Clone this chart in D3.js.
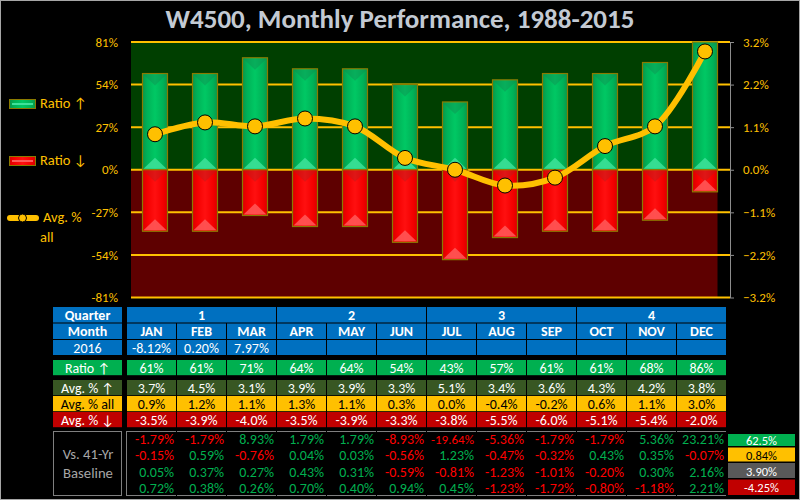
<!DOCTYPE html>
<html>
<head>
<meta charset="utf-8">
<script src="https://d3js.org/d3.v7.min.js"></script>
<style>
  body { margin: 0; background: #000; }
  svg text { font-family: Carlito, Calibri, Lato, sans-serif; }
</style>
</head>
<body>
<script>
// ---- data ----
var months = ["JAN", "FEB", "MAR", "APR", "MAY", "JUN", "JUL", "AUG", "SEP", "OCT", "NOV", "DEC"];
var quarters = ["1", "2", "3", "4"];
var ratioUp = [61, 61, 71, 64, 64, 54, 43, 57, 61, 61, 68, 86];
var ratioDown = [-39, -39, -29, -36, -36, -46, -57, -43, -39, -39, -32, -14];
var avgAll = [0.9, 1.2, 1.1, 1.3, 1.1, 0.3, 0.0, -0.4, -0.2, 0.6, 1.1, 3.0];
var avgUp = [3.7, 4.5, 3.1, 3.9, 3.9, 3.3, 5.1, 3.4, 3.6, 4.3, 4.2, 3.8];
var avgDown = [-3.5, -3.9, -4.0, -3.5, -3.9, -3.3, -3.8, -5.5, -6.0, -5.1, -5.4, -2.0];
var ytd2016 = [-8.12, 0.20, 7.97, null, null, null, null, null, null, null, null, null];
var base1 = [-1.79, -1.79, 8.93, 1.79, 1.79, -8.93, -19.64, -5.36, -1.79, -1.79, 5.36, 23.21];
var base2 = [-0.15, 0.59, -0.76, 0.04, 0.03, -0.56, 1.23, -0.47, -0.32, 0.43, 0.35, -0.07];
var base3 = [0.05, 0.37, 0.27, 0.43, 0.31, -0.59, -0.81, -1.23, -1.01, -0.20, 0.30, 2.16];
var base4 = [0.72, 0.38, 0.26, 0.70, 0.40, 0.94, 0.45, -1.23, -1.72, -0.80, -1.18, 2.21];
var summary = ["62.5%", "0.84%", "3.90%", "-4.25%"];
var leftTicks = [-81, -54, -27, 0, 27, 54, 81];
var rightTicks = [-3.24, -2.16, -1.08, 0, 1.08, 2.16, 3.24];

var GOLD = "#FFC000", BLUE = "#0070C0", GREEN = "#00B050", OLIVE = "#385723", RED = "#C00000";
var FS = 14;

var svg = d3.select("body").append("svg")
    .attr("width", 800).attr("height", 500)
    .style("display", "block").style("background", "#000");

svg.append("rect").attr("x", 0.5).attr("y", 0.5).attr("width", 799).attr("height", 499)
    .attr("fill", "none").attr("stroke", "#a6a6a6");

// gradients for the bevelled bars
var defs = svg.append("defs");
function hGrad(id, stops) {
  var g = defs.append("linearGradient").attr("id", id).attr("x1", 0).attr("x2", 1).attr("y1", 0).attr("y2", 0);
  stops.forEach(function (s) { g.append("stop").attr("offset", s[0]).attr("stop-color", s[1]); });
}
hGrad("gUp", [[0, "#0b9548"], [0.18, "#00b257"], [0.5, "#00c864"], [0.82, "#00b257"], [1, "#0b9548"]]);
hGrad("gDn", [[0, "#d80000"], [0.18, "#f40000"], [0.5, "#ff1010"], [0.82, "#f40000"], [1, "#d80000"]]);

// ---- scales ----
var x = d3.scaleBand().domain(months).range([130, 730]).paddingInner(0.5).paddingOuter(0.25);
var yL = d3.scaleLinear().domain([-81, 81]).range([297.5, 42]).clamp(true);
var yR = d3.scaleLinear().domain([-3.24, 3.24]).range([297.5, 42]);
var bw = x.bandwidth();
var bgRight = x(months[11]) + bw;

// plot background halves
svg.append("rect").attr("x", 131).attr("y", yL(81)).attr("width", bgRight - 131)
    .attr("height", yL(0) - yL(81)).attr("fill", "#003f00");
svg.append("rect").attr("x", 131).attr("y", yL(0)).attr("width", bgRight - 131)
    .attr("height", yL(-81) - yL(0)).attr("fill", "#5e0000");

// gridlines
svg.selectAll("line.grid").data(leftTicks).enter().append("line")
    .attr("x1", 131).attr("x2", 730)
    .attr("y1", function (d) { return yL(d); }).attr("y2", function (d) { return yL(d); })
    .attr("stroke", GOLD).attr("stroke-width", 2);

// axes
var axL = svg.append("g").attr("transform", "translate(131,0)")
    .call(d3.axisLeft(yL).tickValues(leftTicks).tickSize(0).tickPadding(13)
      .tickFormat(function (d) { return d + "%"; }));
axL.select(".domain").remove();
axL.selectAll("text").attr("fill", GOLD).style("font-size", "13px");

var axR = svg.append("g").attr("transform", "translate(730,0)")
    .call(d3.axisRight(yR).tickValues(rightTicks).tickSize(4).tickSizeOuter(0).tickPadding(9)
      .tickFormat(function (d) { return d3.format(".1f")(d) + "%"; }));
axR.select(".domain").attr("stroke", "#8c8c8c");
axR.selectAll("line").attr("stroke", "#8c8c8c");
axR.selectAll("text").attr("fill", GOLD).style("font-size", "13px");

// bars
function drawBars(vals, cls, grad, topCol, botCol) {
  var g = svg.selectAll("g." + cls).data(vals).enter().append("g").attr("class", cls);
  g.append("rect")
      .attr("x", function (d, i) { return x(months[i]); })
      .attr("y", function (d) { return Math.min(yL(d), yL(0)); })
      .attr("width", bw)
      .attr("height", function (d) { return Math.abs(yL(d) - yL(0)); })
      .attr("fill", "url(#" + grad + ")")
      .attr("stroke", "#8a7a00").attr("stroke-width", 1.2);
  // dark bevel at the top
  g.append("path").attr("fill", topCol).attr("opacity", 0.4)
      .attr("d", function (d, i) {
        var x0 = x(months[i]) + 1, x1 = x0 + bw - 2, t = Math.min(yL(d), yL(0)) + 1;
        return "M" + x0 + "," + t + "L" + x1 + "," + t + "L" + (x0 + bw / 2 - 1) + "," + (t + 11) + "Z";
      });
  // light bevel at the bottom
  g.append("path").attr("fill", botCol).attr("opacity", 0.85)
      .attr("d", function (d, i) {
        var x0 = x(months[i]) + 1, x1 = x0 + bw - 2, b = Math.max(yL(d), yL(0)) - 1;
        return "M" + x0 + "," + b + "L" + x1 + "," + b + "L" + (x0 + bw / 2 - 1) + "," + (b - 11) + "Z";
      });
}
drawBars(ratioUp, "up", "gUp", "#128a50", "#3ee29a");
drawBars(ratioDown, "dn", "gDn", "#b02020", "#ff5a5a");

// avg % all line on the secondary axis
var line = d3.line()
    .x(function (d, i) { return x(months[i]) + bw / 2; })
    .y(function (d) { return yR(d); })
    .curve(d3.curveCatmullRom.alpha(0.5));
svg.append("path").datum(avgAll).attr("d", line)
    .attr("fill", "none").attr("stroke", GOLD).attr("stroke-width", 6);
svg.selectAll("circle.pt").data(avgAll).enter().append("circle")
    .attr("cx", function (d, i) { return x(months[i]) + bw / 2; })
    .attr("cy", function (d) { return yR(d); })
    .attr("r", 7.5).attr("fill", GOLD).attr("stroke", "#000").attr("stroke-width", 1);

// title
svg.append("text").attr("x", 400).attr("y", 28).attr("text-anchor", "middle")
    .attr("fill", "#c3cad3").style("font-size", "27px").style("font-weight", "bold")
    .text("W4500, Monthly Performance, 1988-2015");

// legend
svg.append("rect").attr("x", 9.5).attr("y", 99.5).attr("width", 26).attr("height", 9)
    .attr("fill", "url(#gUp)").attr("stroke", "#8a7a00");
svg.append("rect").attr("x", 12).attr("y", 103).attr("width", 21).attr("height", 2).attr("fill", "#3ee29a");
svg.append("rect").attr("x", 9.5).attr("y", 156.5).attr("width", 26).attr("height", 9)
    .attr("fill", "url(#gDn)").attr("stroke", "#8a7a00");
svg.append("rect").attr("x", 12).attr("y", 160).attr("width", 21).attr("height", 2).attr("fill", "#ff5a5a");
svg.append("line").attr("x1", 10).attr("x2", 36).attr("y1", 218).attr("y2", 218)
    .attr("stroke", GOLD).attr("stroke-width", 6).attr("stroke-linecap", "round");
svg.append("circle").attr("cx", 22.5).attr("cy", 218).attr("r", 4)
    .attr("fill", GOLD).attr("stroke", "#000").attr("stroke-width", 1);
var legTxt = [["Ratio \u2191", 40, 108], ["Ratio \u2193", 40, 165], ["Avg. %", 43, 222], ["all", 40, 242]];
svg.selectAll("text.leg").data(legTxt).enter().append("text")
    .attr("x", function (d) { return d[1]; }).attr("y", function (d) { return d[2]; })
    .attr("fill", GOLD).style("font-size", "14.5px").text(function (d) { return d[0]; });

// ---- table ----
var tx = d3.scaleBand().domain(months).range([127, 727]);
var cw = tx.bandwidth() - 1;
var fmt1 = function (v) { return v.toFixed(1) + "%"; };
var fmt2 = function (v) { return v.toFixed(2) + "%"; };

// excel style shrink-to-fit
function fit(t, maxW) {
  var w = t.node().getComputedTextLength();
  if (w > maxW) t.style("font-size", (FS * maxW / w) + "px");
}

function cell(x0, y0, w, h, fill, txt, col, bold, fs) {
  svg.append("rect").attr("x", x0).attr("y", y0).attr("width", w).attr("height", h).attr("fill", fill);
  if (txt !== "") {
    var t = svg.append("text").attr("x", x0 + w / 2).attr("y", y0 + h / 2 + 0.5)
        .attr("text-anchor", "middle").attr("dominant-baseline", "central")
        .attr("fill", col).style("font-size", (fs || FS) + "px").style("font-weight", bold ? "bold" : "normal")
        .text(txt);
    fit(t, w - 4);
  }
}

// header rows
cell(53, 307, 69, 15.5, BLUE, "Quarter", "#fff", true);
quarters.forEach(function (q, k) {
  cell(tx(months[k * 3]), 307, 3 * tx.step() - 1, 15.5, BLUE, q, "#fff", true);
});
cell(53, 323.5, 69, 15.5, BLUE, "Month", "#fff", true);
months.forEach(function (m) { cell(tx(m), 323.5, cw, 15.5, BLUE, m, "#fff", true); });
cell(53, 340, 69, 15, BLUE, "2016", "#fff", false);
ytd2016.forEach(function (v, i) { cell(tx(months[i]), 340, cw, 15, BLUE, v === null ? "" : fmt2(v), "#fff", false); });

var rows = [
  { y: 360, lab: "Ratio \u2191", fill: GREEN, col: "#fff", vals: ratioUp, f: function (v) { return v + "%"; } },
  { y: 380, lab: "Avg. % \u2191", fill: OLIVE, col: "#fff", vals: avgUp, f: fmt1 },
  { y: 396, lab: "Avg. % all", fill: GOLD, col: "#000", vals: avgAll, f: fmt1 },
  { y: 412, lab: "Avg. % \u2193", fill: RED, col: "#fff", vals: avgDown, f: fmt1 }
];
rows.forEach(function (r) {
  cell(53, r.y, 69, 15.2, r.fill, r.lab, r.col, false);
  r.vals.forEach(function (v, i) { cell(tx(months[i]), r.y, cw, 15.2, r.fill, r.f(v), r.col, false); });
});

// baseline block
svg.append("rect").attr("x", 53.5).attr("y", 431.5).attr("width", 68).attr("height", 64)
    .attr("fill", "none").attr("stroke", "#7f7f7f");
svg.append("text").attr("x", 88).attr("y", 459).attr("text-anchor", "middle")
    .attr("fill", "#a6a6a6").style("font-size", "14.7px").text("Vs. 41-Yr");
svg.append("text").attr("x", 88).attr("y", 478).attr("text-anchor", "middle")
    .attr("fill", "#a6a6a6").style("font-size", "14.7px").text("Baseline");
svg.append("line").attr("x1", 126.5).attr("x2", 126.5).attr("y1", 431).attr("y2", 496).attr("stroke", "#7f7f7f");
months.forEach(function (m) {
  [431.5, 495.5].forEach(function (yy) {
    svg.append("line").attr("x1", tx(m)).attr("x2", tx(m) + cw).attr("y1", yy).attr("y2", yy)
        .attr("stroke", "#7f7f7f");
  });
});
[base1, base2, base3, base4].forEach(function (arr, r) {
  svg.selectAll("text.b" + r).data(arr).enter().append("text")
      .attr("x", function (d, i) { return tx(months[i]) + cw - 2; })
      .attr("y", 444 + r * 16.3)
      .attr("text-anchor", "end")
      .attr("fill", function (d) { return d < 0 ? "#ff0000" : GREEN; })
      .style("font-size", FS + "px")
      .text(function (d) { return fmt2(d); })
      .each(function () { fit(d3.select(this), 43); });
});

// summary boxes
var sumFill = [GREEN, GOLD, "#595959", RED];
var sumCol = ["#fff", "#000", "#fff", "#fff"];
var sumY = [434, 447.5, 463, 479.5];
var sumH = [12, 14, 15, 15.5];
summary.forEach(function (s, k) {
  cell(728, sumY[k], 67, sumH[k], sumFill[k], s, sumCol[k], false, 12.5);
});
</script>
</body>
</html>
